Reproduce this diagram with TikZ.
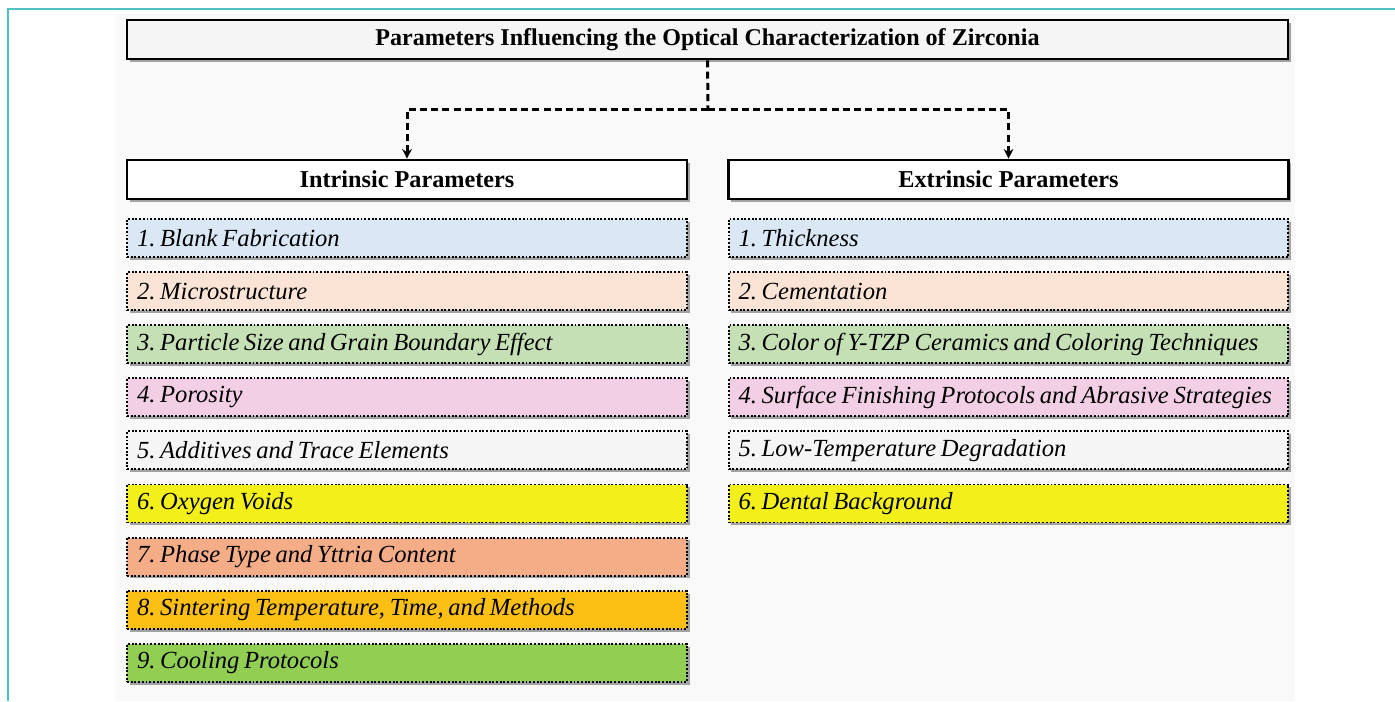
\documentclass[tikz,border=0pt]{standalone}
\usepackage{fontspec}
\setmainfont{Liberation Serif}
\usetikzlibrary{arrows.meta,shadows}
\frenchspacing

\definecolor{frameteal}{RGB}{80,192,192}
\definecolor{pagebg}{RGB}{249,249,249}
\definecolor{cblue}{RGB}{218,232,245}
\definecolor{cpeach}{RGB}{251,228,214}
\definecolor{cmint}{RGB}{198,224,181}
\definecolor{cpink}{RGB}{242,207,228}
\definecolor{cgrey}{RGB}{245,245,245}
\definecolor{cyellow}{RGB}{242,240,24}
\definecolor{csalmon}{RGB}{244,173,134}
\definecolor{corange}{RGB}{252,191,20}
\definecolor{cgreen}{RGB}{145,206,82}

\newcommand{\itemfont}{\fontsize{14}{15}\selectfont\itshape}
\newcommand{\tightsp}[1]{{\spaceskip=0.19em plus 0.05em\relax #1}}

\tikzset{
  shade/.style={drop shadow={shadow xshift=1.6pt,shadow yshift=-1.6pt,opacity=0.35,fill=black}},
  titlebox/.style={shade,draw=black,line width=1.5pt,fill=cgrey,minimum width=23.22cm,
    minimum height=0.78cm,inner sep=0pt,font=\fontsize{13.7}{15}\selectfont\bfseries},
  headbox/.style={shade,draw=black,line width=1.5pt,fill=white,minimum width=11.2cm,
    minimum height=0.78cm,inner sep=0pt,font=\fontsize{13.8}{15}\selectfont\bfseries},
  itembox/.style={shade,draw=black,densely dotted,line width=1.1pt,text width=10.8cm,
    inner xsep=0.2cm,inner ysep=0pt,minimum height=0.76cm,align=left,font=\itemfont},
  conn/.style={line width=1.7pt,dash pattern=on 4pt off 2.4pt},
}

\begin{document}
\begin{tikzpicture}[x=0.02cm,y=-0.02cm,>={Stealth[length=5.5pt,width=5.5pt]}]
  \useasboundingbox (0,0) rectangle (1395,701);
  \fill[pagebg] (115,14) rectangle (1295,701);
  \draw[frameteal,line width=1.2pt] (8,701) -- (8,9) -- (1395,9);

  % title and the two groups
  \node[titlebox] (title) at (707.5,39.5) {Parameters Influencing the Optical Characterization of Zirconia};
  \node[headbox] (intr) at (407,179.5) {Intrinsic Parameters};
  \node[headbox] (extr) at (1008.5,179.5) {Extrinsic Parameters};

  \coordinate (split) at (708,109);
  \draw[conn] (title.south) -- (split);
  \draw[conn,->] (split) -| (intr.north);
  \draw[conn,->] (split) -| (extr.north);

  % intrinsic list
  \foreach \i/\col/\txt in {1/cblue/Blank Fabrication,
      2/cpeach/Microstructure,
      3/cmint/Particle Size and Grain Boundary Effect,
      4/cpink/Porosity,
      5/cgrey/Additives and Trace Elements,
      6/cyellow/Oxygen Voids,
      7/csalmon/Phase Type and Yttria Content,
      8/corange/{Sintering Temperature, Time, and Methods},
      9/cgreen/Cooling Protocols}
    \node[itembox,fill=\col] (in\i) at (407,{238+53.1*(\i-1)}) {\tightsp{\i. \txt}};

  % extrinsic list
  \foreach \i/\col/\txt in {1/cblue/Thickness,
      2/cpeach/Cementation,
      3/cmint/Color of Y-TZP Ceramics and Coloring Techniques,
      4/cpink/Surface Finishing Protocols and Abrasive Strategies,
      5/cgrey/Low-Temperature Degradation,
      6/cyellow/Dental Background}
    \node[itembox,fill=\col] (ex\i) at (1008.5,{238+53.1*(\i-1)}) {\tightsp{\i. \txt}};
\end{tikzpicture}
\end{document}
